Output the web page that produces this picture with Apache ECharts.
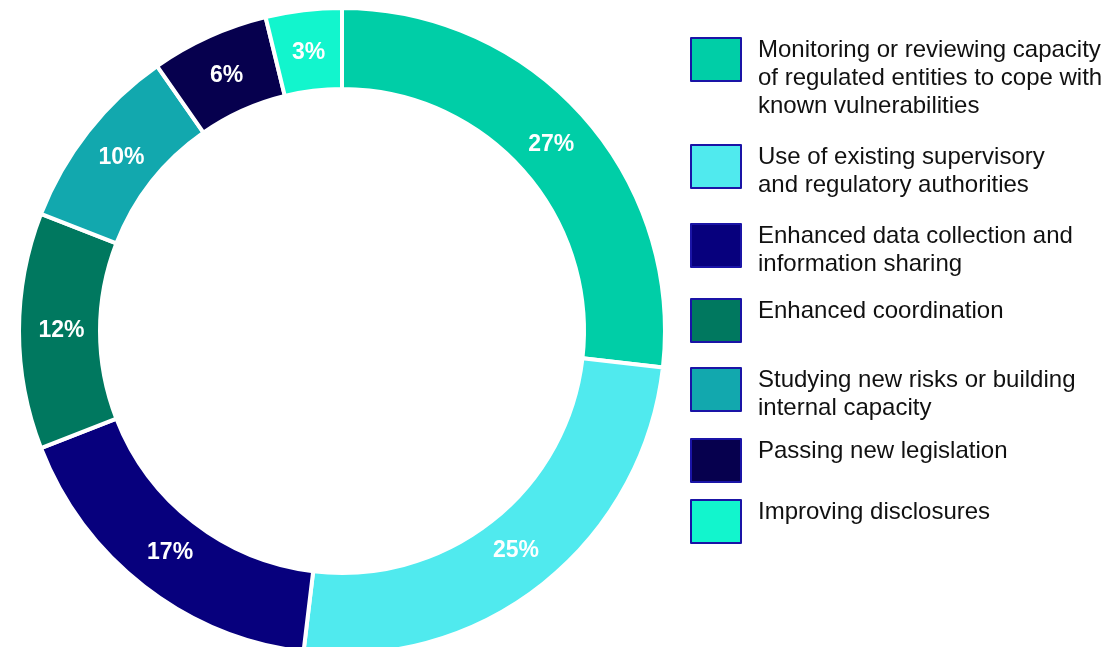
<!DOCTYPE html>
<html>
<head>
<meta charset="utf-8">
<script src="https://cdn.jsdelivr.net/npm/echarts@6/dist/echarts.min.js"></script>
<style>
html,body{margin:0;padding:0;background:#fff;}
#chart{width:1115px;height:647px;}
</style>
</head>
<body>
<div id="chart"></div>
<script>
// Data
const categories = [
  "Monitoring or reviewing capacity\nof regulated entities to cope with\nknown vulnerabilities",
  "Use of existing supervisory\nand regulatory authorities",
  "Enhanced data collection and\ninformation sharing",
  "Enhanced coordination",
  "Studying new risks or building\ninternal capacity",
  "Passing new legislation",
  "Improving disclosures"
];
const shares = [26.8, 25.1, 17.2, 11.8, 9.4, 5.9, 3.8];
const shareLabels = ["27%", "25%", "17%", "12%", "10%", "6%", "3%"];
const colors = ["#00CEA7", "#50EAEE", "#07007D", "#00785F", "#12A8AE", "#06004E", "#12F5CD"];

// Layout constants
const legendMarkerTops = [38, 145, 224, 300, 368, 440, 501];
const itemH = 43, lineH = 28;
const pieCenter = [342, 331];
const labelInset = 5;

const chart = echarts.init(document.getElementById('chart'));

const legends = categories.map((name, i) => {
  const lines = name.split('\n');
  const n = lines.length;
  const shift = -9.5 + (n - 1) * lineH / 2;
  const padH = Math.round(Math.abs(2 * shift));
  let fmt = lines.map(l => '{t|' + l + '}').join('\n');
  if (shift > 0) fmt = '{p| }\n' + fmt;
  else fmt = fmt + '\n{p| }';
  const textBoxTop = itemH / 2 - (n * lineH + padH) / 2;
  return {
    data: [name],
    left: 690,
    top: legendMarkerTops[i] + Math.min(0, textBoxTop),
    padding: 0,
    orient: 'vertical',
    icon: 'rect',
    itemWidth: 50,
    itemHeight: itemH,
    selectedMode: false,
    itemStyle: { borderColor: '#1A14A6', borderWidth: 2 },
    formatter: () => fmt,
    textStyle: {
      fontFamily: 'Liberation Sans, Arial, sans-serif',
      fontSize: 24,
      color: '#111',
      padding: [0, 0, 0, 12],
      rich: {
        t: { fontFamily: 'Liberation Sans, Arial, sans-serif', fontSize: 24, lineHeight: lineH, color: '#111' },
        p: { fontSize: 1, lineHeight: padH, height: padH }
      }
    }
  };
});

chart.setOption({
  animation: false,
  color: colors,
  legend: legends,
  series: [{
    type: 'pie',
    center: pieCenter,
    radius: [242, 323],
    startAngle: 90,
    clockwise: true,
    avoidLabelOverlap: false,
    emphasis: { disabled: true },
    itemStyle: { borderColor: '#ffffff', borderWidth: 4 },
    label: {
      show: true,
      position: 'inside',
      formatter: p => shareLabels[p.dataIndex],
      color: '#ffffff',
      fontFamily: 'Liberation Sans, Arial, sans-serif',
      fontWeight: 'bold',
      fontSize: 23
    },
    labelLayout: function (params) {
      const r = params.labelRect;
      const lx = r.x + r.width / 2, ly = r.y + r.height / 2;
      const dx = lx - pieCenter[0], dy = ly - pieCenter[1];
      const d = Math.sqrt(dx * dx + dy * dy) || 1;
      const k = (d - labelInset) / d;
      return { x: pieCenter[0] + dx * k, y: pieCenter[1] + dy * k, align: 'center', verticalAlign: 'middle' };
    },
    labelLine: { show: false },
    data: categories.map((c, i) => ({ name: c, value: shares[i] }))
  }]
});
</script>
</body>
</html>
